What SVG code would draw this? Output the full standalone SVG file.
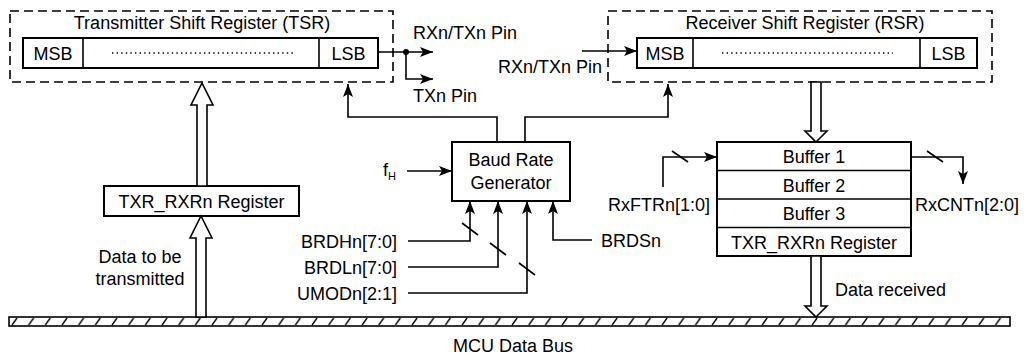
<svg xmlns="http://www.w3.org/2000/svg" width="1025" height="364" viewBox="0 0 1025 364">
<style>
text{font-family:"Liberation Sans",Arial,sans-serif;font-size:18px;fill:#000}
.c{text-anchor:middle}
.e{text-anchor:end}
.box{fill:#fff;stroke:#000;stroke-width:2}
.dash{fill:none;stroke:#000;stroke-width:1.6;stroke-dasharray:9 5}
.ln{fill:none;stroke:#000;stroke-width:1.6}
.dots{stroke:#000;stroke-width:1.4;stroke-dasharray:1.4 3.2}
.hollow{fill:#fff;stroke:#000;stroke-width:1.6;stroke-linejoin:miter}
</style>
<defs>
<marker id="ah" viewBox="0 0 13 10" refX="13" refY="5" markerWidth="13" markerHeight="10" markerUnits="userSpaceOnUse" orient="auto">
<path d="M0,0 L13,5 L0,10 L3,5 z" fill="#000"/>
</marker>
<pattern id="hatch" width="16.67" height="9" patternUnits="userSpaceOnUse" x="9" y="317">
<line x1="3" y1="8" x2="8" y2="1" stroke="#000" stroke-width="1.3"/>
</pattern>
</defs>

<g id="tsr">
<rect class="dash" x="10" y="11" width="383" height="71"/>
<text class="c" x="202" y="29">Transmitter Shift Register (TSR)</text>
<rect class="box" x="23" y="38" width="355" height="30"/>
<line class="ln" x1="83" y1="38" x2="83" y2="68" stroke-width="2"/>
<line class="ln" x1="319" y1="38" x2="319" y2="68" stroke-width="2"/>
<text class="c" x="53" y="59.5">MSB</text>
<text class="c" x="348.5" y="59.5">LSB</text>
<line class="dots" x1="112" y1="53" x2="293" y2="53"/>
</g>

<g id="rsr">
<rect class="dash" x="608" y="11" width="384" height="71"/>
<text class="c" x="805" y="29">Receiver Shift Register (RSR)</text>
<rect class="box" x="637" y="38" width="340" height="30"/>
<line class="ln" x1="693" y1="38" x2="693" y2="68" stroke-width="2"/>
<line class="ln" x1="920" y1="38" x2="920" y2="68" stroke-width="2"/>
<text class="c" x="665" y="59.5">MSB</text>
<text class="c" x="948.5" y="59.5">LSB</text>
<line class="dots" x1="722" y1="53" x2="893" y2="53"/>
</g>

<g id="brg">
<rect class="box" x="452" y="142" width="118" height="59"/>
<text class="c" x="511" y="166">Baud Rate</text>
<text class="c" x="511" y="189">Generator</text>
</g>

<g id="txreg">
<rect class="box" x="104" y="186" width="195" height="30"/>
<text class="c" x="201.5" y="207.5">TXR_RXRn Register</text>
</g>

<g id="buffers">
<rect class="box" x="717" y="142" width="194" height="114"/>
<line class="ln" x1="717" y1="170.5" x2="911" y2="170.5" stroke-width="2"/>
<line class="ln" x1="717" y1="199" x2="911" y2="199" stroke-width="2"/>
<line class="ln" x1="717" y1="227.5" x2="911" y2="227.5" stroke-width="2"/>
<text class="c" x="814" y="163">Buffer 1</text>
<text class="c" x="814" y="191.5">Buffer 2</text>
<text class="c" x="814" y="220">Buffer 3</text>
<text class="c" x="814" y="248.5">TXR_RXRn Register</text>
</g>

<g id="bus">
<rect x="9" y="317" width="1001" height="9" fill="url(#hatch)" stroke="#000" stroke-width="1.6"/>
<text class="c" x="513" y="352">MCU Data Bus</text>
</g>

<g id="connectors">
<polyline class="ln" points="378,52 433,52" marker-end="url(#ah)"/>
<polyline class="ln" points="406,52 406,79 433,79" marker-end="url(#ah)"/>
<circle cx="406" cy="52" r="3" fill="#000"/>
<polyline class="ln" points="582,51 637,51" marker-end="url(#ah)"/>
<polyline class="ln" points="497,142 497,117 348,117 348,84" marker-end="url(#ah)"/>
<polyline class="ln" points="525,142 525,117 668,117 668,84" marker-end="url(#ah)"/>
<polyline class="ln" points="407,171 452,171" marker-end="url(#ah)"/>
<polyline class="ln" points="408,241 470,241 470,201" marker-end="url(#ah)"/>
<polyline class="ln" points="408,267 498,267 498,201" marker-end="url(#ah)"/>
<polyline class="ln" points="408,293 527,293 527,201" marker-end="url(#ah)"/>
<polyline class="ln" points="592,240 553,240 553,201" marker-end="url(#ah)"/>
<line class="ln" x1="462" y1="223" x2="478" y2="235"/>
<line class="ln" x1="490" y1="243" x2="506" y2="255"/>
<line class="ln" x1="519" y1="263" x2="535" y2="275"/>
<polyline class="ln" points="663,187 663,157 717,157" marker-end="url(#ah)"/>
<line class="ln" x1="672" y1="151" x2="688" y2="162"/>
<polyline class="ln" points="911,157 963,157 963,184" marker-end="url(#ah)"/>
<line class="ln" x1="927" y1="151" x2="943" y2="162"/>
<polygon class="hollow" points="202,83 213,105 207,105 207,186 197,186 197,105 191,105"/>
<polygon class="hollow" points="201,216 212,238 206,238 206,317 196,317 196,238 190,238"/>
<polygon class="hollow" points="816,142 827,131 821,131 821,82 811,82 811,131 805,131"/>
<polygon class="hollow" points="816,317 827,306 821,306 821,256 811,256 811,306 805,306"/>
</g>

<g id="labels">
<text x="413" y="39">RXn/TXn Pin</text>
<text x="413" y="102">TXn Pin</text>
<text class="e" x="602" y="73">RXn/TXn Pin</text>
<text x="383" y="176">f<tspan font-size="11" dy="4">H</tspan></text>
<text class="e" x="397" y="248">BRDHn[7:0]</text>
<text class="e" x="397" y="274">BRDLn[7:0]</text>
<text class="e" x="397" y="300">UMODn[2:1]</text>
<text x="601" y="247">BRDSn</text>
<text class="e" x="710" y="211">RxFTRn[1:0]</text>
<text x="915" y="211">RxCNTn[2:0]</text>
<text class="c" x="140" y="263">Data to be</text>
<text class="c" x="140" y="285">transmitted</text>
<text x="835" y="296">Data received</text>
</g>
</svg>
